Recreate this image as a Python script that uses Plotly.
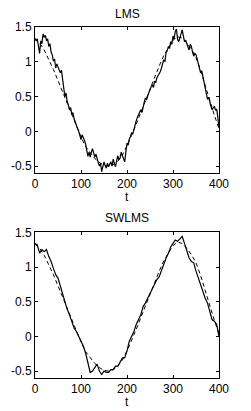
import numpy as np
import plotly.graph_objects as go

# ---------------- data ----------------
# true signal (dashed), sampled every 10 samples of t
t_true = list(range(0, 401, 10))
true_signal = [1.33, 1.27, 1.17, 1.04, 0.89, 0.73, 0.57, 0.40, 0.23, 0.07,
               -0.08, -0.22, -0.31, -0.39, -0.45, -0.49, -0.50, -0.48, -0.43, -0.34,
               -0.21, -0.06, 0.10, 0.27, 0.44, 0.61, 0.78, 0.94, 1.09, 1.21,
               1.31, 1.36, 1.34, 1.27, 1.18, 1.06, 0.88, 0.66, 0.44, 0.23, 0.04]

# LMS estimate, every 2.5 samples of t
t_lms = list(np.arange(0, 400.01, 2.5))
lms_est = [1.34, 1.30, 1.33, 1.25, 1.12, 1.30, 1.26, 1.40, 1.35, 1.38,
           1.30, 1.33, 1.22, 1.26, 1.14, 1.10, 1.01, 1.04, 0.91, 0.97,
           0.92, 0.90, 0.84, 0.88, 0.70, 0.62, 0.50, 0.55, 0.42, 0.38,
           0.31, 0.34, 0.24, 0.27, 0.18, 0.12, 0.07, 0.04, 0.00, -0.06,
           -0.12, -0.05, -0.08, -0.13, -0.18, -0.27, -0.36, -0.30, -0.37, -0.30,
           -0.25, -0.31, -0.37, -0.33, -0.41, -0.45, -0.50, -0.46, -0.58, -0.50,
           -0.44, -0.49, -0.53, -0.46, -0.51, -0.47, -0.44, -0.50, -0.40, -0.46,
           -0.51, -0.42, -0.35, -0.41, -0.38, -0.30, -0.34, -0.39, -0.44, -0.30,
           -0.17, -0.20, -0.11, -0.08, -0.02, -0.04, 0.04, 0.09, 0.15, 0.20,
           0.24, 0.28, 0.31, 0.27, 0.36, 0.42, 0.48, 0.45, 0.51, 0.56,
           0.60, 0.64, 0.67, 0.63, 0.72, 0.70, 0.77, 0.80, 0.82, 0.86,
           0.91, 0.97, 1.03, 1.00, 1.13, 1.16, 1.22, 1.19, 1.29, 1.25,
           1.37, 1.33, 1.44, 1.47, 1.32, 1.29, 1.37, 1.40, 1.46, 1.38,
           1.29, 1.31, 1.27, 1.22, 1.17, 1.25, 1.22, 1.14, 1.08, 1.12,
           1.10, 1.04, 0.98, 0.90, 0.84, 0.87, 0.79, 0.72, 0.65, 0.55,
           0.46, 0.49, 0.41, 0.36, 0.31, 0.34, 0.36, 0.30, 0.32, 0.20,
           0.05]

# SWLMS estimate, every 5 samples of t
t_sw = list(range(0, 401, 5))
swlms_est = [1.34, 1.32, 1.20, 1.25, 1.22, 1.25, 1.15, 1.08, 0.98, 0.89,
             0.84, 0.72, 0.62, 0.50, 0.39, 0.31, 0.22, 0.12, 0.07, 0.00,
             -0.07, -0.14, -0.24, -0.36, -0.52, -0.50, -0.45, -0.40, -0.50, -0.55,
             -0.50, -0.52, -0.52, -0.48, -0.48, -0.43, -0.43, -0.36, -0.31, -0.31,
             -0.21, -0.07, 0.00, 0.07, 0.17, 0.24, 0.31, 0.43, 0.48, 0.55,
             0.62, 0.67, 0.74, 0.82, 0.86, 0.96, 1.03, 1.13, 1.20, 1.29,
             1.34, 1.39, 1.37, 1.41, 1.44, 1.34, 1.22, 1.13, 1.08, 1.06,
             0.94, 0.84, 0.74, 0.65, 0.55, 0.48, 0.36, 0.24, 0.22, 0.17,
             0.00]

titles = ["LMS", "SWLMS"]
x_ticks = [0, 100, 200, 300, 400]
y_ticks = [-0.5, 0, 0.5, 1, 1.5]
y_ticktext = ["-0.5", "0", "0.5", "1", "1.5"]

# ---------------- figure ----------------
FONT = dict(family="Liberation Sans, Arial, sans-serif", size=12, color="black")
fig = go.Figure()

for i, (est_t, est) in enumerate([(t_lms, lms_est), (t_sw, swlms_est)]):
    xa = "x" if i == 0 else "x2"
    ya = "y" if i == 0 else "y2"
    fig.add_trace(go.Scatter(x=t_true, y=true_signal, mode="lines",
                             line=dict(color="black", width=1, dash="4px,3px"),
                             xaxis=xa, yaxis=ya, hoverinfo="skip"))
    fig.add_trace(go.Scatter(x=est_t, y=est, mode="lines",
                             line=dict(color="black", width=1.2),
                             xaxis=xa, yaxis=ya, hoverinfo="skip"))

axis_common = dict(showline=True, linecolor="black", linewidth=1, mirror="allticks",
                   ticks="inside", ticklen=3, tickcolor="black", showgrid=False,
                   zeroline=False, tickfont=FONT)

fig.update_layout(
    width=251, height=411,
    margin=dict(l=35, r=32, t=27, b=33),
    paper_bgcolor="white", plot_bgcolor="white",
    showlegend=False,
    xaxis=dict(domain=[0, 1], anchor="y", range=[0, 400], tickvals=x_ticks, **axis_common),
    yaxis=dict(domain=[0.584, 1], anchor="x", range=[-0.6, 1.5], tickvals=y_ticks,
               ticktext=y_ticktext, **axis_common),
    xaxis2=dict(domain=[0, 1], anchor="y2", range=[0, 400], tickvals=x_ticks, **axis_common),
    yaxis2=dict(domain=[0, 0.415], anchor="x2", range=[-0.6, 1.5], tickvals=y_ticks,
                ticktext=y_ticktext, **axis_common),
)

ann = [
    dict(text=titles[0], x=0.5, y=1.037, xref="paper", yref="paper", showarrow=False,
         xanchor="center", yanchor="middle", font=FONT),
    dict(text=titles[1], x=0.5, y=0.456, xref="paper", yref="paper", showarrow=False,
         xanchor="center", yanchor="middle", font=FONT),
    dict(text="t", x=0.5, y=0.516, xref="paper", yref="paper", showarrow=False,
         xanchor="center", yanchor="middle", font=FONT),
    dict(text="t", x=0.5, y=-0.068, xref="paper", yref="paper", showarrow=False,
         xanchor="center", yanchor="middle", font=FONT),
]
fig.update_layout(annotations=ann)

fig.write_html("out.html")
